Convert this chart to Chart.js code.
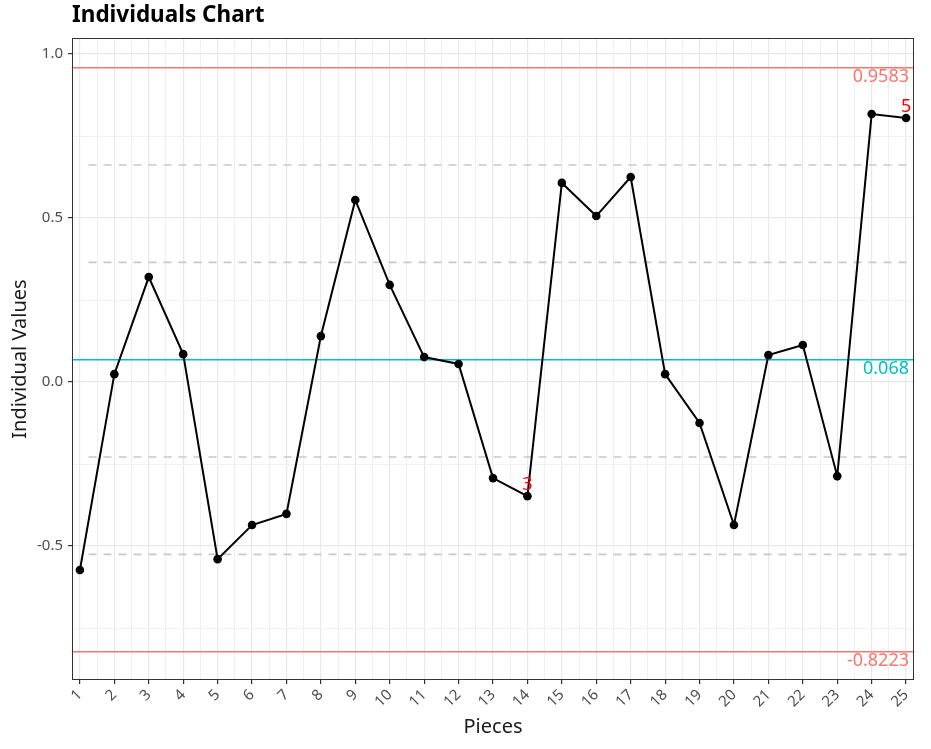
<!DOCTYPE html>
<html>
<head>
<meta charset="utf-8">
<script src="https://cdn.jsdelivr.net/npm/chart.js@4.4.1/dist/chart.umd.min.js"></script>
<style>
  html, body { margin: 0; padding: 0; background: #fff; }
  canvas { display: block; }
</style>
</head>
<body>
<canvas id="iChart" width="931" height="749"></canvas>
<script>
// pieces and individual values
var pieces = [1, 2, 3, 4, 5, 6, 7, 8, 9, 10, 11, 12, 13, 14, 15, 16, 17, 18, 19, 20, 21, 22, 23, 24, 25];
var values = [-0.573, 0.024, 0.320, 0.085, -0.540, -0.436, -0.402, 0.140, 0.555, 0.296,
              0.076, 0.055, -0.293, -0.348, 0.607, 0.506, 0.625, 0.024, -0.125, -0.436,
              0.082, 0.113, -0.287, 0.817, 0.805];

// control limits
var limitValues = [0.9583, 0.068, -0.8223];
var limitLabels = ["0.9583", "0.068", "-0.8223"];
var limitColors = ["#f8766d", "#00bfc4", "#f8766d"];

// 1 and 2 sigma zone lines
var zoneValues = [0.6616, 0.3648, -0.2288, -0.5256];

// flagged points (rule number)
var flagPieces = [14, 25];
var flagTexts = ["3", "5"];

// y tick labels
var yTickValues = [-0.5, 0.0, 0.5, 1.0];

var xMin = 0.77, xMax = 25.23;
var yMin = -0.9085, yMax = 1.0488;

var FONT = "'Noto Sans', 'Open Sans', sans-serif";

var datasets = [{
  data: pieces.map(function (p, i) { return { x: p, y: values[i] }; }),
  borderColor: "#000",
  backgroundColor: "#000",
  borderWidth: 2,
  pointRadius: 4.3,
  pointBorderWidth: 0,
  tension: 0
}];

limitValues.forEach(function (v, i) {
  datasets.push({
    data: [{ x: xMin, y: v }, { x: xMax, y: v }],
    borderColor: limitColors[i],
    borderWidth: 1.6,
    pointRadius: 0
  });
});

zoneValues.forEach(function (v) {
  datasets.push({
    data: [{ x: 1.25, y: v }, { x: xMax - 0.1, y: v }],
    borderColor: "#c8c8c8",
    borderWidth: 1.6,
    borderDash: [8, 7],
    pointRadius: 0
  });
});

function isMajorX(v) { return Math.abs(v - Math.round(v)) < 1e-6; }
function isMajorY(v) { return Math.abs(v * 2 - Math.round(v * 2)) < 1e-6; }

var decorations = {
  id: "decorations",
  afterDatasetsDraw: function (chart) {
    var ctx = chart.ctx, a = chart.chartArea;
    var xs = chart.scales.x, ys = chart.scales.y;
    ctx.save();

    // limit labels
    ctx.font = "18px " + FONT;
    ctx.textAlign = "right";
    ctx.textBaseline = "middle";
    limitValues.forEach(function (v, i) {
      ctx.fillStyle = limitColors[i];
      ctx.fillText(limitLabels[i], a.right - 5, ys.getPixelForValue(v) + 9);
    });

    // flagged point labels
    ctx.textAlign = "center";
    ctx.fillStyle = "#ff0000";
    flagPieces.forEach(function (p, i) {
      var idx = pieces.indexOf(p);
      ctx.fillText(flagTexts[i], xs.getPixelForValue(p), ys.getPixelForValue(values[idx]) - 11);
    });

    // panel border
    ctx.strokeStyle = "#333";
    ctx.lineWidth = 1;
    ctx.strokeRect(a.left + 0.5, a.top + 0.5, a.right - a.left - 1, a.bottom - a.top - 1);

    // title
    ctx.fillStyle = "#000";
    ctx.font = "bold 22.5px " + FONT;
    ctx.textAlign = "left";
    ctx.textBaseline = "middle";
    ctx.fillText("Individuals Chart", a.left, 16);
    ctx.restore();
  }
};

new Chart(document.getElementById("iChart").getContext("2d"), {
  type: "line",
  data: { datasets: datasets },
  options: {
    responsive: false,
    animation: false,
    layout: { padding: { top: 38, right: 17, left: 0, bottom: 0 } },
    plugins: { legend: { display: false }, tooltip: { enabled: false }, title: { display: false } },
    scales: {
      x: {
        type: "linear",
        min: xMin,
        max: xMax,
        afterBuildTicks: function (scale) {
          var t = [];
          for (var v = 1; v <= 25; v += 0.5) t.push({ value: v });
          scale.ticks = t;
        },
        afterFit: function (scale) { scale.height = 69; },
        border: { display: false },
        grid: {
          color: function (c) { return isMajorX(c.tick.value) ? "#e8e8e8" : "#f0f0f0"; },
          lineWidth: function (c) { return isMajorX(c.tick.value) ? 1.2 : 1; },
          tickColor: function (c) { return isMajorX(c.tick.value) ? "#333" : "rgba(0,0,0,0)"; },
          tickLength: 4,
          tickWidth: 1.2
        },
        ticks: {
          autoSkip: false,
          minRotation: 45,
          maxRotation: 45,
          padding: 2,
          color: "#4d4d4d",
          font: { family: FONT, size: 15 },
          callback: function (v) { return isMajorX(v) ? String(Math.round(v)) : ""; }
        },
        title: {
          display: true,
          text: "Pieces",
          color: "#1a1a1a",
          font: { family: FONT, size: 20 },
          padding: { top: 0, bottom: 10 }
        }
      },
      y: {
        type: "linear",
        min: yMin,
        max: yMax,
        afterBuildTicks: function (scale) {
          var t = [];
          for (var v = -0.75; v <= 1.0001; v += 0.25) t.push({ value: Math.round(v * 100) / 100 });
          scale.ticks = t;
        },
        afterFit: function (scale) { scale.width = 72; },
        border: { display: false },
        grid: {
          color: function (c) { return isMajorY(c.tick.value) ? "#e8e8e8" : "#f0f0f0"; },
          lineWidth: function (c) { return isMajorY(c.tick.value) ? 1.2 : 1; },
          tickColor: function (c) { return isMajorY(c.tick.value) ? "#333" : "rgba(0,0,0,0)"; },
          tickLength: 4,
          tickWidth: 1.2
        },
        ticks: {
          padding: 5,
          color: "#4d4d4d",
          font: { family: FONT, size: 15 },
          callback: function (v) {
            return yTickValues.indexOf(v) >= 0 ? v.toFixed(1) : "";
          }
        },
        title: {
          display: true,
          text: "Individual Values",
          color: "#1a1a1a",
          font: { family: FONT, size: 20 },
          padding: { top: 8, bottom: 0 }
        }
      }
    }
  },
  plugins: [decorations]
});
</script>
</body>
</html>
